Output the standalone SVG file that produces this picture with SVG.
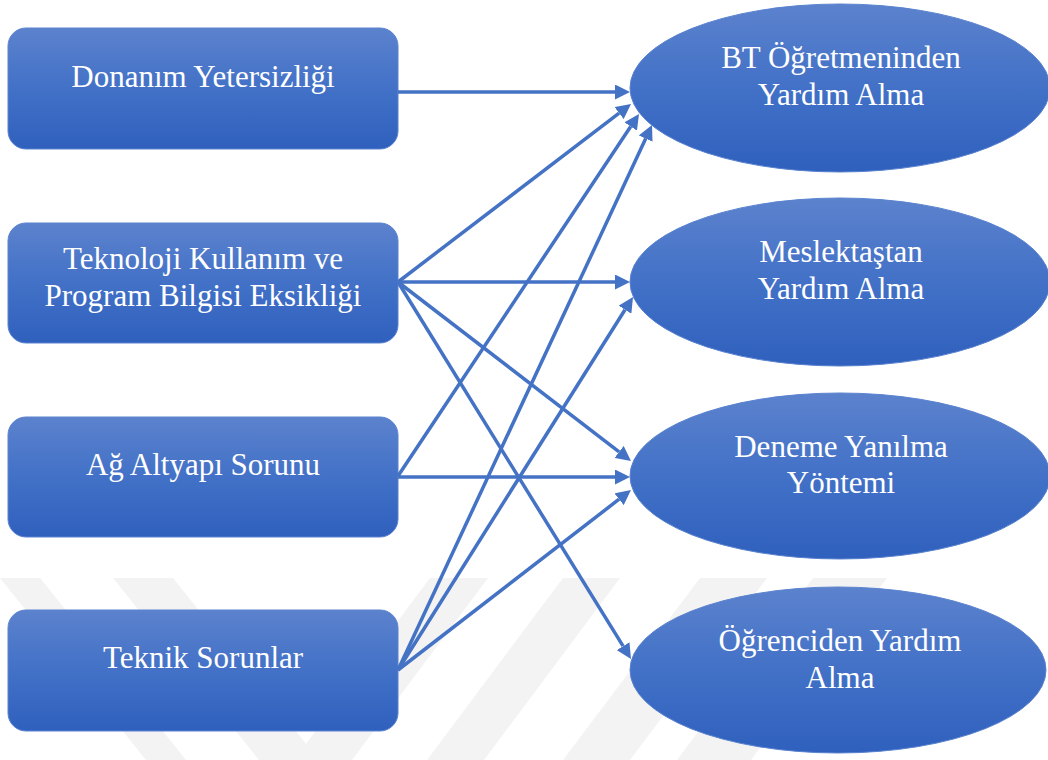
<svg xmlns="http://www.w3.org/2000/svg" width="1048" height="760" viewBox="0 0 1048 760">
<defs>
<linearGradient id="g" x1="0" y1="0" x2="0" y2="1">
<stop offset="0" stop-color="#5c82cd"/>
<stop offset="0.5" stop-color="#4271c7"/>
<stop offset="1" stop-color="#2f60bd"/>
</linearGradient>
<marker id="ah" viewBox="0 0 15 15" refX="0" refY="7.5" markerWidth="15" markerHeight="15" markerUnits="userSpaceOnUse" orient="auto">
<path d="M0,0 L15,7.5 L0,15 Z" fill="#4472c4"/>
</marker>
<style>
.box{fill:url(#g);stroke:#5a83cf;stroke-width:1}
.t{font-family:"Liberation Serif","Times New Roman",serif;font-size:31px;fill:#ffffff;text-anchor:middle}
.c{stroke:#4472c4;stroke-width:3.5;fill:none;marker-end:url(#ah)}
.wm{fill:#f3f3f3}
</style>
</defs>
<rect width="1048" height="760" fill="#ffffff"/>
<g id="watermark">
<polygon class="wm" points="0,578 40,578 186,760 146,760"/>
<polygon class="wm" points="113,578 173,578 319,760 259,760"/>
<polygon class="wm" points="430,578 488,578 352,760 294,760"/>
<polygon class="wm" points="563,578 620,578 484,760 427,760"/>
<polygon class="wm" points="700,578 767,578 630,760 563,760"/>
<polygon class="wm" points="813,578 887,578 751,760 677,760"/>
</g>
<g id="n1"><rect class="box" x="8" y="28" width="390" height="121" rx="18"/><text class="t" x="203" y="87">Donanım Yetersizliği</text></g>
<g id="n2"><rect class="box" x="8" y="223" width="390" height="120" rx="18"/><text class="t" x="203" y="268.5">Teknoloji Kullanım ve</text><text class="t" x="203" y="305.5">Program Bilgisi Eksikliği</text></g>
<g id="n3"><rect class="box" x="8" y="417" width="390" height="120" rx="18"/><text class="t" x="203" y="475">Ağ Altyapı Sorunu</text></g>
<g id="n4"><rect class="box" x="8" y="610" width="390" height="121" rx="18"/><text class="t" x="203" y="668">Teknik Sorunlar</text></g>
<g id="e1"><ellipse class="box" cx="840" cy="88" rx="210" ry="84"/><text class="t" x="841" y="68">BT Öğretmeninden</text><text class="t" x="841" y="105">Yardım Alma</text></g>
<g id="e2"><ellipse class="box" cx="840" cy="282" rx="210" ry="84"/><text class="t" x="841" y="262">Meslektaştan</text><text class="t" x="841" y="299">Yardım Alma</text></g>
<g id="e3"><ellipse class="box" cx="840" cy="476" rx="210" ry="83"/><text class="t" x="841" y="457">Deneme Yanılma</text><text class="t" x="841" y="493">Yöntemi</text></g>
<g id="e4"><ellipse class="box" cx="838" cy="670" rx="208" ry="83"/><text class="t" x="840" y="651">Öğrenciden Yardım</text><text class="t" x="840" y="688">Alma</text></g>
<g id="connectors">
<line class="c" x1="398" y1="92" x2="615" y2="92"/>
<line class="c" x1="398" y1="282" x2="619.1" y2="113.1"/>
<line class="c" x1="398" y1="476" x2="630.7" y2="126.5"/>
<line class="c" x1="398" y1="670" x2="645.7" y2="138.6"/>
<line class="c" x1="398" y1="282" x2="615" y2="282"/>
<line class="c" x1="398" y1="670" x2="625" y2="309.7"/>
<line class="c" x1="398" y1="282" x2="619.1" y2="451.9"/>
<line class="c" x1="398" y1="477" x2="615" y2="477"/>
<line class="c" x1="398" y1="670" x2="619.1" y2="499.2"/>
<line class="c" x1="398" y1="282" x2="623.1" y2="646.2"/>
</g>
</svg>
